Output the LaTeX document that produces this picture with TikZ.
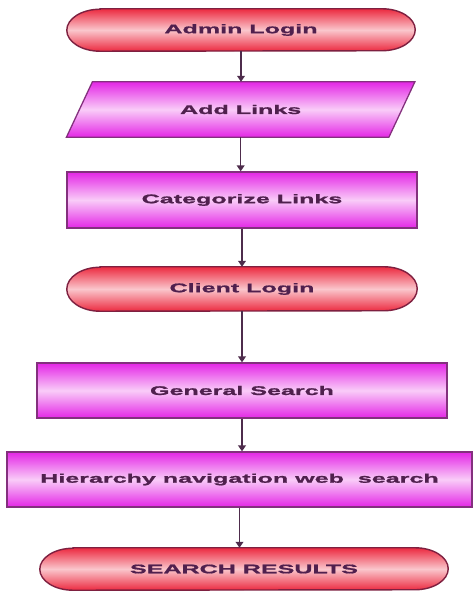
\documentclass[tikz,border=0pt]{standalone}
\usepackage{fontspec}
\newfontfamily\flowfont{Liberation Sans Bold}[FakeStretch=2.0,FakeBold=1.2]
\usetikzlibrary{arrows.meta,calc,backgrounds}
\definecolor{ink}{HTML}{50204E}
\definecolor{redge}{HTML}{EC2A40}
\definecolor{rmid}{HTML}{FAC6CC}
\definecolor{rline}{HTML}{7E2040}
\definecolor{medge}{HTML}{E426E6}
\definecolor{mmid}{HTML}{F9CCF8}
\definecolor{mline}{HTML}{84307E}
\definecolor{arr}{HTML}{4E2C4C}
\tikzset{
  lbl/.style={font=\flowfont\fontsize{10.7}{12}\selectfont,text=ink},
  term/.style={lbl,rectangle,inner sep=0pt},
  termbody/.style={draw=rline,line width=1.2pt,top color=redge,bottom color=redge,middle color=rmid},
  procbody/.style={draw=mline,line width=1.1pt,top color=medge,bottom color=medge,middle color=mmid},
  proc/.style={lbl,rectangle,procbody,inner sep=0pt},
  io/.style={lbl,rectangle,inner sep=0pt},
  flow/.style={arr,line width=1.2pt,-{Triangle[width=6.5pt,length=5pt]}},
}

\begin{document}
\begin{tikzpicture}
  \newcommand{\stadium}[2]{%
    \path[termbody] ($(#1.north west)+(1,0)$) -- ($(#1.north east)+(-1,0)$)
      arc[start angle=90,end angle=-90,x radius=1,y radius=#2]
      -- ($(#1.south west)+(1,0)$)
      arc[start angle=270,end angle=90,x radius=1,y radius=#2] -- cycle;}
  \newcommand{\slanted}[2]{%
    \path[procbody] ($(#1.north west)+(#2,0)$) -- ($(#1.north east)+(#2,0)$)
      -- ($(#1.south east)+(-#2,0)$) -- ($(#1.south west)+(-#2,0)$) -- cycle;}
  \useasboundingbox (0,0) rectangle (14.16,17.85);
  % flow steps, top to bottom
  \node[term,minimum width=10.44cm,minimum height=1.26cm] (admin) at (7.23,16.95) {Admin Login};
  \node[io,minimum width=9.66cm,minimum height=1.65cm] (addlinks) at (7.22,14.565) {Add Links};
  \node[proc,minimum width=10.5cm,minimum height=1.68cm] (catlinks) at (7.26,11.85) {Categorize Links};
  \node[term,minimum width=10.5cm,minimum height=1.32cm] (client) at (7.26,9.18) {Client Login};
  \node[proc,minimum width=12.3cm,minimum height=1.65cm] (gensearch) at (7.26,6.135) {General Search};
  \node[proc,minimum width=13.95cm,minimum height=1.65cm] (hiersearch) at (7.185,3.465) {Hierarchy navigation web~ search};
  \node[term,minimum width=12.24cm,minimum height=1.26cm] (results) at (7.32,0.78) {SEARCH RESULTS};
  \begin{scope}[on background layer]
    \stadium{admin}{0.63}
    \slanted{addlinks}{0.39}
    \stadium{client}{0.66}
    \stadium{results}{0.63}
  \end{scope}
  % connectors
  \draw[flow] (admin.south) -- (admin.south |- addlinks.north);
  \draw[flow] (addlinks.south) -- (addlinks.south |- catlinks.north);
  \draw[flow] (catlinks.south) -- (catlinks.south |- client.north);
  \draw[flow] (client.south) -- (client.south |- gensearch.north);
  \draw[flow] (gensearch.south) -- (gensearch.south |- hiersearch.north);
  \draw[flow] (hiersearch.south) -- (hiersearch.south |- results.north);
\end{tikzpicture}
\end{document}
